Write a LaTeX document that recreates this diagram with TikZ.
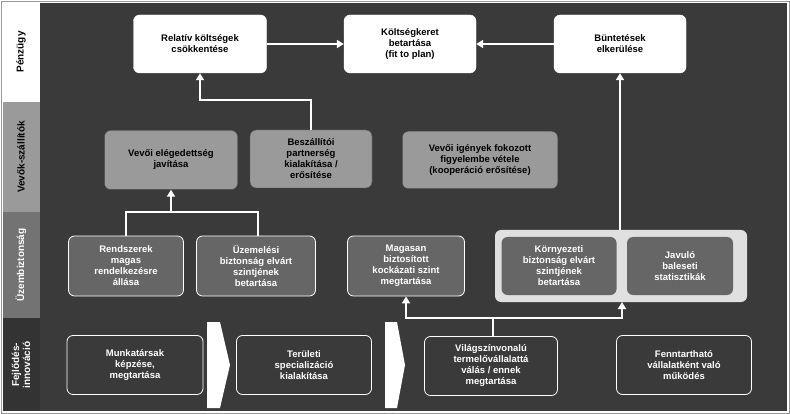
\documentclass[tikz,border=0pt]{standalone}
\usepackage{fontspec}
\setmainfont{Liberation Sans}
\usetikzlibrary{arrows.meta}
\definecolor{bgdark}{HTML}{3A3A3A}
\definecolor{midgrey}{HTML}{9A9A9A}
\definecolor{boxgrey}{HTML}{666666}
\definecolor{panelgrey}{HTML}{E0E0E0}
\tikzset{
  txt/.style={font=\bfseries\fontsize{9.5}{11}\selectfont, align=center},
  whitebox/.style={txt, draw=white, fill=white, rounded corners=6pt, text=black},
  greybox/.style={txt, draw=black!70, fill=midgrey, rounded corners=6pt, text=black},
  midbox/.style={txt, draw=white, thick, fill=boxgrey, rounded corners=6pt, text=white},
  darkbox/.style={txt, draw=white, thick, fill=bgdark, rounded corners=6pt, text=white},
  conn/.style={draw=white, line width=2pt, -{Triangle[length=7pt,width=8pt]}},
  plain/.style={draw=white, line width=2pt},
  lanetxt/.style={txt, rotate=90, font=\bfseries\fontsize{10}{11}\selectfont}
}
\begin{document}
\begin{tikzpicture}[x=1pt, y=-1pt]
  \useasboundingbox (0,0) rectangle (790,414);
  % Background and lanes
  \draw[fill=white, draw=black!40] (1,1) rectangle (789,413);
  \fill[bgdark] (40,3) rectangle (787,411);
  \fill[white] (3,3) rectangle (40,102);
  \fill[midgrey] (3,102) rectangle (40,212);
  \fill[black!55] (3,212) rectangle (40,318);
  \fill[black!80] (3,318) rectangle (40,411);
  \node[lanetxt] (penz) at (21,52) {Pénzügy};
  \node[lanetxt] (vevo) at (21,157) {Vevők-szállítók};
  \node[lanetxt, text=white] (uzem) at (21,265) {Üzembiztonság};
  \node[lanetxt, text=white] (fejl) at (21,365) {Fejlődés-\\innováció};

  % Pénzügy
  \node[whitebox, minimum width=133pt, minimum height=58pt] (relativ) at (200,44) {Relatív költségek\\csökkentése};
  \node[whitebox, minimum width=132pt, minimum height=58pt] (keret) at (410,44) {Költségkeret\\betartása\\(fit to plan)};
  \node[whitebox, minimum width=132pt, minimum height=58pt] (buntet) at (620,44) {Büntetések\\elkerülése};

  % Vevők-szállítók
  \node[greybox, minimum width=133pt, minimum height=59pt] (elegedett) at (171,160) {Vevői elégedettség\\javítása};
  \node[greybox, minimum width=122pt, minimum height=58pt] (beszall) at (311,159) {Beszállítói\\partnerség\\kialakítása /\\erősítése};
  \node[greybox, draw=none, minimum width=155pt, minimum height=57pt] (igenyek) at (480,160) {Vevői igények fokozott\\figyelembe vétele\\(kooperáció erősítése)};

  % Üzembiztonság
  \fill[panelgrey, rounded corners=6pt] (495,230) rectangle (747,302);
  \coordinate (panelbot) at (622,302);
  \coordinate (paneltop) at (620,230);
  \node[midbox, minimum width=115pt, minimum height=60pt] (rendszer) at (126,266) {Rendszerek\\magas\\rendelkezésre\\állása};
  \node[midbox, minimum width=119pt, minimum height=60pt] (uzemeles) at (256,266) {Üzemelési\\biztonság elvárt\\szintjének\\betartása};
  \node[midbox, minimum width=117pt, minimum height=60pt] (magasan) at (406,266) {Magasan\\biztosított\\kockázati szint\\megtartása};
  \node[midbox, draw=none, minimum width=115pt, minimum height=58pt] (kornyezet) at (559,266) {Környezeti\\biztonság elvárt\\szintjének\\betartása};
  \node[midbox, draw=none, minimum width=106pt, minimum height=58pt] (javulo) at (680,266) {Javuló\\baleseti\\statisztikák};

  % Fejlődés-innováció
  \node[darkbox, minimum width=136pt, minimum height=59pt] (munka) at (135,365) {Munkatársak\\képzése,\\megtartása};
  \node[darkbox, minimum width=135pt, minimum height=59pt] (terulet) at (304,365) {Területi\\specializáció\\kialakítása};
  \node[darkbox, minimum width=133pt, minimum height=59pt] (vilag) at (491,366) {Világszínvonalú\\termelővállalattá\\válás / ennek\\megtartása};
  \node[darkbox, minimum width=135pt, minimum height=59pt] (fennt) at (684,365) {Fenntartható\\vállalatként való\\működés};
  \fill[white] (207,322) -- (220,322) -- (230,365) -- (220,408) -- (207,408) -- cycle;
  \fill[white] (385,322) -- (397,322) -- (405,365) -- (397,408) -- (385,408) -- cycle;

  % Connectors
  \draw[conn] (relativ) -- (keret);
  \draw[conn] (buntet) -- (keret);
  \draw[conn] (beszall.north) |- (200,100) -- (relativ.south);
  \draw[conn] (paneltop) -- (buntet.south -| paneltop);
  \draw[conn] (171,212) -- (elegedett.south);
  \draw[plain] (rendszer.north) |- (258,212) -- (uzemeles.north -| 258,0);
  \draw[plain] (vilag.north -| 493,0) -- (493,318);
  \draw[conn] (493,318) -| (magasan.south);
  \draw[conn] (493,318) -| (panelbot);
\end{tikzpicture}
\end{document}
